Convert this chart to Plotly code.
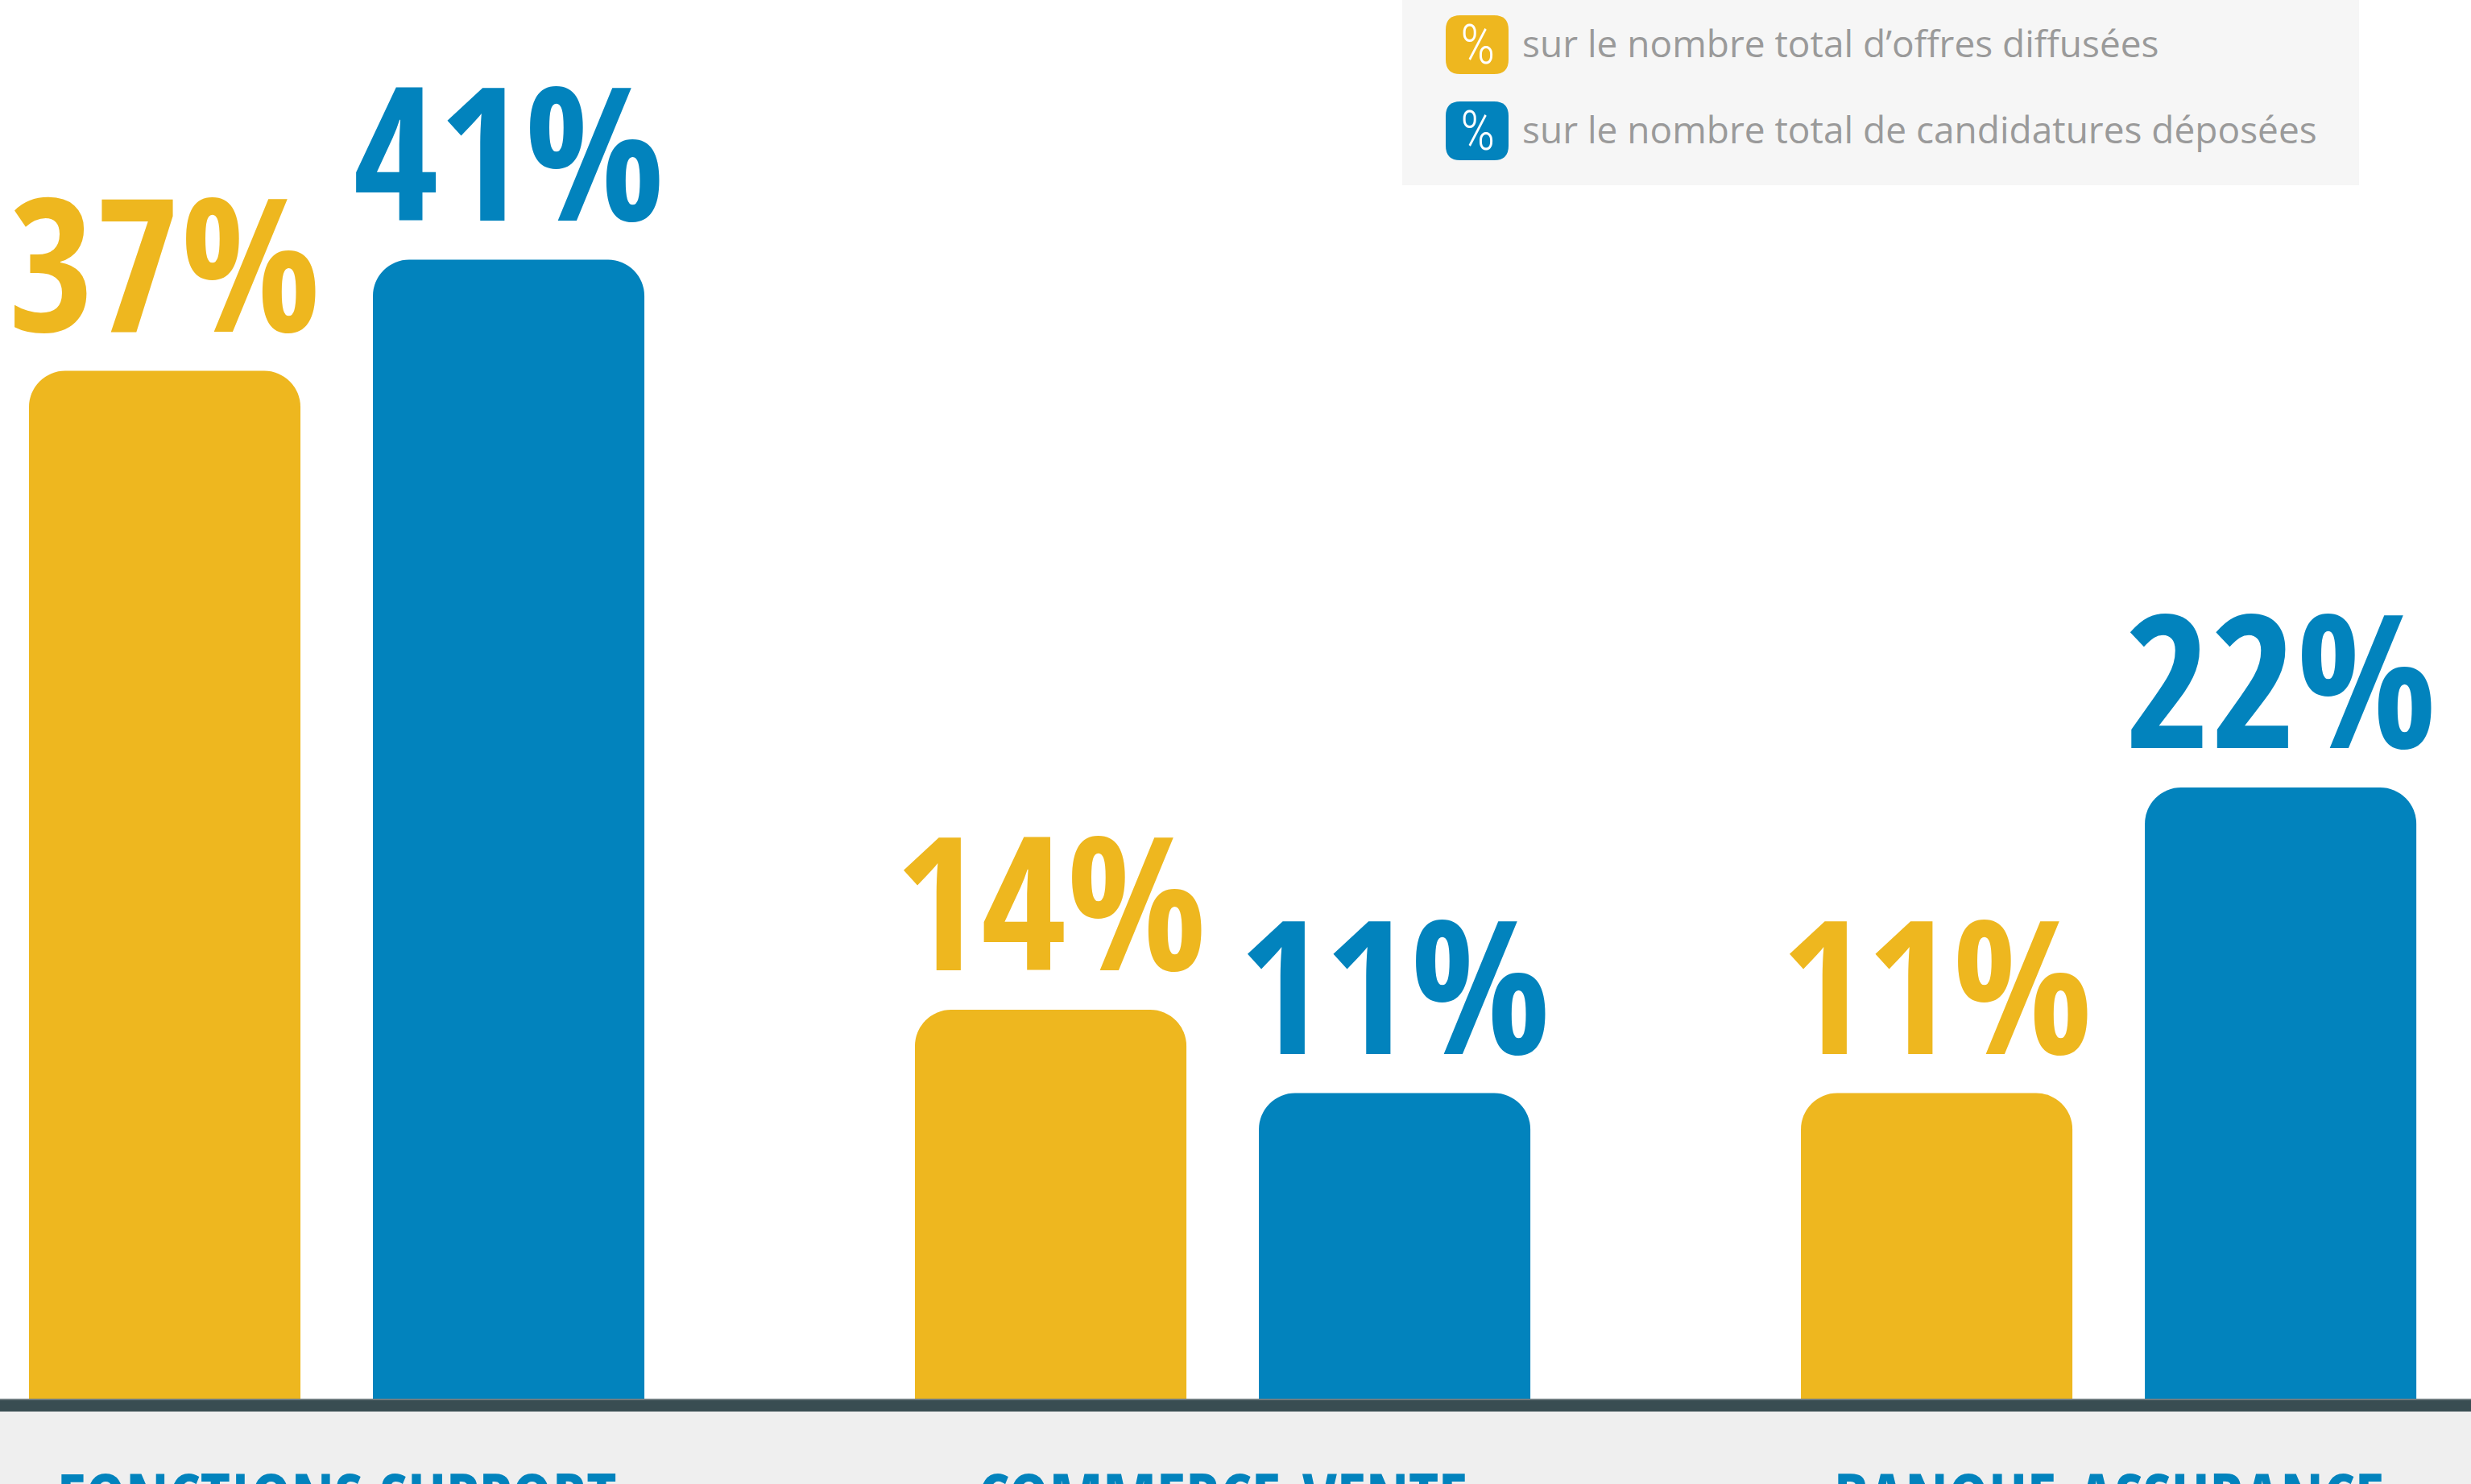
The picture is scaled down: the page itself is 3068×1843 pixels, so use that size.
import plotly.graph_objects as go

categories = ["FONCTIONS SUPPORT", "COMMERCE-VENTE", "BANQUE-ASSURANCE"]
offres = [37, 14, 11]
candidatures = [41, 11, 22]
legend_labels = ["sur le nombre total d\u2019offres diffusées",
                 "sur le nombre total de candidatures déposées"]

YELLOW = "#EEB71F"
BLUE = "#0283BD"
W, H = 3068, 1843
BASE = 1737  # pixel row of the baseline (bottom of the plot area)

def px_x(px):
    return px / W

def px_y(py):
    return (BASE - py) / BASE

fig = go.Figure()
fig.add_trace(go.Bar(x=categories, y=offres, marker=dict(color=YELLOW, line=dict(width=0)),
                     name=legend_labels[0], hoverinfo="skip"))
fig.add_trace(go.Bar(x=categories, y=candidatures, marker=dict(color=BLUE, line=dict(width=0)),
                     name=legend_labels[1], hoverinfo="skip"))

bargap = 0.2236
slot = (1 - bargap) / 2
label_font = "Open Sans Condensed, Roboto Condensed, sans-serif"

annotations = []
for j, (vals, col) in enumerate([(offres, YELLOW), (candidatures, BLUE)]):
    for i, v in enumerate(vals):
        annotations.append(dict(
            x=i + (j - 0.5) * slot, y=v, xref="x", yref="y",
            text=f"{v}%", showarrow=False, xanchor="center", yanchor="bottom",
            yshift=-20, font=dict(family=label_font, size=230, color=col, weight="bold")))

for i, c in enumerate(categories):
    annotations.append(dict(
        x=i, y=0, xref="x", yref="y", text=c, showarrow=False,
        xanchor="center", yanchor="top", yshift=-61,
        font=dict(family=label_font, size=85, color=BLUE, weight="bold")))

shapes = []
# baseline band and bottom area
shapes.append(dict(type="rect", xref="paper", yref="paper", x0=0, x1=1,
                   y0=px_y(1753), y1=px_y(H + 5), fillcolor="#EFEFEF", line=dict(width=0)))
shapes.append(dict(type="rect", xref="paper", yref="paper", x0=0, x1=1,
                   y0=px_y(1737), y1=px_y(1753), fillcolor="#394D52", line=dict(width=0)))
shapes.append(dict(type="line", xref="paper", yref="paper", x0=0, x1=1,
                   y0=px_y(1738), y1=px_y(1738), line=dict(color="#6F7C80", width=2)))
# legend box
shapes.append(dict(type="rect", xref="paper", yref="paper", x0=px_x(1741), x1=px_x(2929),
                   y0=px_y(0), y1=px_y(230), fillcolor="#F6F6F6", line=dict(width=0), layer="below"))

def rounded_square(x0, y0, x1, y1, r):
    return (f"M {px_x(x0 + r)} {px_y(y0)} L {px_x(x1 - r)} {px_y(y0)} "
            f"Q {px_x(x1)} {px_y(y0)} {px_x(x1)} {px_y(y0 + r)} "
            f"L {px_x(x1)} {px_y(y1 - r)} Q {px_x(x1)} {px_y(y1)} {px_x(x1 - r)} {px_y(y1)} "
            f"L {px_x(x0 + r)} {px_y(y1)} Q {px_x(x0)} {px_y(y1)} {px_x(x0)} {px_y(y1 - r)} "
            f"L {px_x(x0)} {px_y(y0 + r)} Q {px_x(x0)} {px_y(y0)} {px_x(x0 + r)} {px_y(y0)} Z")

for k, (col, (ty0, ty1)) in enumerate(zip([YELLOW, BLUE], [(19, 92), (126, 199)])):
    shapes.append(dict(type="path", xref="paper", yref="paper",
                       path=rounded_square(1795, ty0, 1873, ty1, 18),
                       fillcolor=col, line=dict(width=0)))
    cy = (ty0 + ty1) / 2
    annotations.append(dict(x=px_x(1834), y=px_y(cy), xref="paper", yref="paper",
                            text="%", showarrow=False, xanchor="center", yanchor="middle",
                            font=dict(family="Roboto Condensed, sans-serif",
                                      size=68, color="white", weight=300)))
    annotations.append(dict(x=px_x(1888), y=px_y(cy - 2), xref="paper", yref="paper",
                            text=legend_labels[k], showarrow=False, xanchor="left", yanchor="middle",
                            font=dict(family="Open Sans, Noto Sans, sans-serif", size=46, color="#9A9A9A")))

fig.update_layout(
    width=W, height=H, autosize=False,
    margin=dict(l=0, r=0, t=0, b=H - BASE, pad=0),
    paper_bgcolor="white", plot_bgcolor="white",
    barmode="group", bargap=bargap, bargroupgap=0.2107,
    barcornerradius=45,
    showlegend=False,
    xaxis=dict(type="category", categoryorder="array", categoryarray=categories,
               range=[-0.38, 2.409], showticklabels=False, showgrid=False,
               zeroline=False, showline=False, ticks=""),
    yaxis=dict(range=[0, BASE / 34.5], visible=False, showgrid=False, zeroline=False),
    annotations=annotations, shapes=shapes,
)

fig.write_html("out.html", config={"displayModeBar": False},
               post_script="document.body.style.margin='0';document.body.style.overflow='hidden';")
